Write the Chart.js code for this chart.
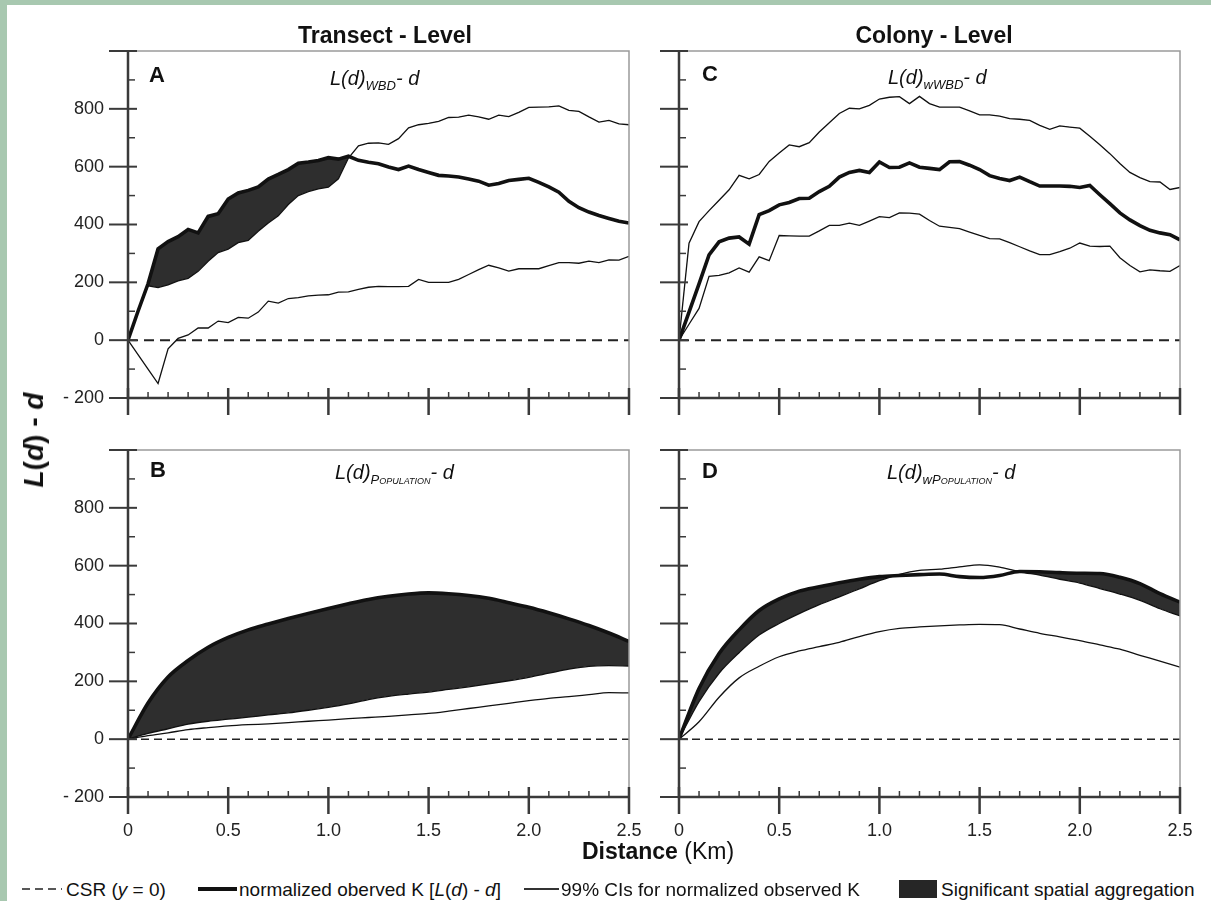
<!DOCTYPE html>
<html>
<head>
<meta charset="utf-8">
<script src="https://cdn.jsdelivr.net/npm/chart.js@4.4.1/dist/chart.umd.min.js"></script>
<style>
  html, body { margin: 0; padding: 0; }
  body { width: 1211px; height: 901px; background: #a8c8b0; position: relative; overflow: hidden;
         font-family: 'Liberation Sans', Arial, sans-serif; color: #111; }
  #sheet { position: absolute; left: 7px; top: 5px; right: 0; bottom: 0; background: #fff; }
  canvas { position: absolute; }
  .t { position: absolute; line-height: 1; white-space: nowrap; }
  .c { transform: translate(-50%, -50%); }
  .l { transform: translateY(-50%); }
  .title { font-weight: bold; font-size: 23px; }
  .letter { font-weight: bold; font-size: 22px; }
  .sub { font-style: italic; font-size: 20px; }
  .sub span { font-size: 13px; position: relative; top: 5px; }
  .sc { font-variant: small-caps; }
  .leg { font-size: 19px; }
</style>
</head>
<body>
<div id="sheet"></div>

<canvas id="chartA" width="621" height="437" style="left:48px;top:11px"></canvas>
<canvas id="chartC" width="621" height="437" style="left:599px;top:11px"></canvas>
<canvas id="chartB" width="621" height="437" style="left:48px;top:410px"></canvas>
<canvas id="chartD" width="621" height="437" style="left:599px;top:410px"></canvas>

<div class="t c title" style="left:385px;top:35px">Transect - Level</div>
<div class="t c title" style="left:934px;top:35px">Colony - Level</div>

<div class="t c letter" style="left:157px;top:75px">A</div>
<div class="t c letter" style="left:710px;top:74px">C</div>
<div class="t c letter" style="left:158px;top:470px">B</div>
<div class="t c letter" style="left:710px;top:471px">D</div>

<div class="t l sub" style="left:330px;top:78px">L(d)<span>WBD</span>- d</div>
<div class="t l sub" style="left:888px;top:77px">L(d)<span>wWBD</span>- d</div>
<div class="t l sub" style="left:335px;top:472px">L(d)<span class="sc">Population</span>- d</div>
<div class="t l sub" style="left:887px;top:472px">L(d)<span>w<span class="sc" style="top:0;font-size:13px">Population</span></span>- d</div>

<div class="t" style="left:34px;top:440px;font-size:28px;font-weight:bold;transform:translate(-50%,-50%) rotate(-90deg)"><i>L</i>(<i>d</i>) - <i>d</i></div>

<div class="t c" style="left:658px;top:851px;font-size:23px"><b>Distance</b> (Km)</div>

<svg style="position:absolute;left:22px;top:884px" width="42" height="10">
  <line x1="0" y1="5" x2="40" y2="5" stroke="#222" stroke-width="1.5" stroke-dasharray="8 5"/>
</svg>
<div class="t l leg" style="left:66px;top:889px">CSR (<i>y</i> = 0)</div>
<div style="position:absolute;left:198px;top:887px;width:39px;height:4px;background:#111"></div>
<div class="t l leg" style="left:239px;top:889px">normalized oberved K [<i>L</i>(<i>d</i>) - <i>d</i>]</div>
<div style="position:absolute;left:524px;top:888px;width:35px;height:1.5px;background:#333"></div>
<div class="t l leg" style="left:561px;top:889px">99% CIs for normalized observed K</div>
<div style="position:absolute;left:899px;top:880px;width:38px;height:18px;background:#262626"></div>
<div class="t l leg" style="left:941px;top:889px">Significant spatial aggregation</div>

<script>
// distances (km)
const distFine = [0, 0.05, 0.1, 0.15, 0.2, 0.25, 0.3, 0.35, 0.4, 0.45, 0.5, 0.55, 0.6, 0.65, 0.7, 0.75,
  0.8, 0.85, 0.9, 0.95, 1.0, 1.05, 1.1, 1.15, 1.2, 1.25, 1.3, 1.35, 1.4, 1.45, 1.5, 1.55, 1.6, 1.65,
  1.7, 1.75, 1.8, 1.85, 1.9, 1.95, 2.0, 2.05, 2.1, 2.15, 2.2, 2.25, 2.3, 2.35, 2.4, 2.45, 2.5];
const distCoarse = [0, 0.1, 0.2, 0.3, 0.4, 0.5, 0.6, 0.7, 0.8, 0.9, 1.0, 1.1, 1.2, 1.3, 1.4, 1.5,
  1.6, 1.7, 1.8, 1.9, 2.0, 2.1, 2.2, 2.3, 2.4, 2.5];

const csrX = [0, 2.5];
const csrY = [0, 0];

// A - transect level, WBD
const obsA = [0, 100, 195, 316, 341, 358, 383, 371, 428, 437, 488, 509, 518, 530, 557, 573, 590, 612, 616,
  621, 631, 626, 636, 622, 615, 610, 599, 590, 602, 590, 580, 570, 568, 564, 557, 550, 536, 542, 552,
  556, 560, 546, 530, 512, 480, 458, 443, 431, 421, 411, 405];
const upA = [0, 100, 188, 182, 191, 205, 214, 238, 273, 303, 315, 337, 345, 377, 405, 430, 469, 500, 514,
  523, 529, 558, 630, 672, 681, 682, 677, 697, 734, 745, 750, 757, 770, 771, 778, 772, 764, 778, 773,
  788, 805, 806, 807, 810, 795, 791, 772, 754, 760, 748, 745];
const lowA = [0, -50, -100, -150, -30, 6, 18, 42, 42, 66, 61, 79, 76, 97, 135, 128, 144, 147, 153, 156,
  157, 166, 167, 176, 183, 186, 185, 185, 186, 210, 200, 200, 200, 210, 227, 244, 259, 250, 239, 247,
  247, 247, 258, 268, 268, 266, 273, 268, 278, 277, 290];

// C - colony level, wWBD
const obsC = [0, 97, 195, 295, 340, 353, 357, 332, 434, 448, 468, 476, 490, 491, 514, 532, 564, 580, 587,
  580, 616, 597, 598, 613, 598, 594, 590, 617, 618, 605, 590, 569, 559, 552, 564, 548, 533, 533, 533,
  532, 528, 535, 503, 472, 440, 416, 396, 380, 371, 365, 347];
const upC = [0, 335, 410, 448, 484, 520, 570, 558, 573, 618, 647, 675, 669, 683, 720, 752, 784, 802, 800,
  812, 834, 840, 842, 818, 843, 818, 806, 806, 806, 793, 779, 779, 775, 766, 764, 760, 743, 729, 741,
  737, 733, 705, 676, 645, 611, 580, 562, 548, 547, 521, 528];
const lowC = [0, 55, 110, 221, 224, 233, 250, 235, 288, 275, 362, 361, 360, 360, 378, 397, 397, 405, 397,
  412, 427, 424, 440, 439, 436, 414, 394, 390, 386, 374, 362, 351, 350, 337, 323, 309, 296, 296, 306,
  318, 336, 325, 324, 325, 285, 258, 236, 243, 240, 238, 258];

// B - transect level, population
const obsB = [0, 125, 215, 272, 318, 352, 378, 398, 417, 435, 452, 468, 483, 494, 502, 506, 503, 497, 487,
  472, 456, 437, 416, 393, 367, 338];
const upB = [0, 20, 36, 52, 62, 69, 76, 84, 91, 100, 110, 122, 137, 148, 156, 163, 172, 181, 191, 202,
  214, 228, 242, 252, 254, 253];
const lowB = [0, 12, 22, 33, 40, 46, 50, 53, 57, 62, 66, 71, 75, 79, 84, 89, 97, 106, 115, 124, 133, 141,
  147, 154, 161, 160];

// D - colony level, wPopulation
const obsD = [0, 175, 296, 378, 445, 485, 512, 527, 541, 553, 562, 566, 569, 571, 562, 559, 566, 580, 579,
  576, 574, 573, 560, 538, 503, 474];
const upD = [0, 130, 228, 299, 360, 400, 434, 465, 492, 520, 548, 570, 584, 588, 596, 603, 595, 579, 567,
  553, 540, 521, 502, 480, 451, 426];
const lowD = [0, 60, 145, 212, 252, 285, 305, 320, 335, 355, 372, 383, 388, 392, 395, 397, 396, 381, 366,
  354, 341, 326, 311, 290, 270, 249];

const xTickLabels = ['0', '0.5', '1.0', '1.5', '2.0', '2.5'];
const yTickLabels = ['- 200', '0', '200', '400', '600', '800', ''];

const tickFont = { family: "'Liberation Sans', Arial, sans-serif", size: 18 };

// axis lines + crossing ticks like the original figure
const framePlugin = {
  id: 'frame',
  afterDatasetsDraw(chart) {
    const { ctx, chartArea: a, scales: { x, y } } = chart;
    ctx.save();
    ctx.lineCap = 'butt';
    ctx.strokeStyle = '#9a9a9a';
    ctx.lineWidth = 1.5;
    ctx.beginPath();
    ctx.moveTo(a.left, a.top);
    ctx.lineTo(a.right, a.top);
    ctx.lineTo(a.right, a.bottom);
    ctx.stroke();

    ctx.strokeStyle = '#3a3a3a';
    ctx.lineWidth = 2.5;
    ctx.beginPath();
    ctx.moveTo(a.left, a.top);
    ctx.lineTo(a.left, a.bottom);
    ctx.lineTo(a.right + 1, a.bottom);
    ctx.stroke();

    const yt = y.ticks.map(t => t.value);
    yt.forEach((v, i) => {
      const py = y.getPixelForValue(v);
      ctx.lineWidth = 2;
      ctx.beginPath();
      ctx.moveTo(a.left - 19, py);
      ctx.lineTo(a.left + 9, py);
      ctx.stroke();
      if (i < yt.length - 1) {
        const pm = y.getPixelForValue((v + yt[i + 1]) / 2);
        ctx.lineWidth = 1.5;
        ctx.beginPath();
        ctx.moveTo(a.left, pm);
        ctx.lineTo(a.left + 7, pm);
        ctx.stroke();
      }
    });

    const xt = x.ticks.map(t => t.value);
    xt.forEach((v, i) => {
      const px = x.getPixelForValue(v);
      ctx.lineWidth = 2.5;
      ctx.beginPath();
      ctx.moveTo(px, a.bottom - 10);
      ctx.lineTo(px, a.bottom + 17);
      ctx.stroke();
      if (i < xt.length - 1) {
        const step = (xt[i + 1] - v) / 5;
        ctx.lineWidth = 1.5;
        for (let k = 1; k < 5; k++) {
          const pm = x.getPixelForValue(v + step * k);
          ctx.beginPath();
          ctx.moveTo(pm, a.bottom - 6);
          ctx.lineTo(pm, a.bottom);
          ctx.stroke();
        }
      }
    });
    ctx.restore();
  }
};

function pts(xs, ys) {
  return xs.map((x, i) => ({ x, y: ys[i] }));
}

function panel(id, xs, obs, up, low, opts) {
  const line = (data, w) => ({
    data: pts(xs, data),
    borderColor: '#111',
    borderWidth: w,
    pointRadius: 0,
    tension: 0,
    cubicInterpolationMode: opts.smooth ? 'monotone' : 'default',
    fill: false
  });
  return new Chart(document.getElementById(id), {
    type: 'line',
    data: {
      datasets: [
        { label: '99% CI (upper)', ...line(up, 1.3) },
        { label: '99% CI (lower)', ...line(low, 1.3) },
        { label: 'observed', ...line(obs, 3.6), fill: { target: 0, above: '#2e2e2e', below: 'rgba(0,0,0,0)' } },
        { label: 'CSR', data: pts(csrX, csrY), borderColor: '#222', borderWidth: opts.dashW,
          borderDash: opts.dash, pointRadius: 0, fill: false }
      ]
    },
    options: {
      responsive: false,
      animation: false,
      events: [],
      // tick padding also feeds the scale padding, so keep the layout padding larger
      layout: { padding: { top: 40, right: 40, left: 0, bottom: 0 } },
      plugins: { legend: { display: false }, tooltip: { enabled: false } },
      scales: {
        x: {
          type: 'linear', min: 0, max: 2.5,
          grid: { display: false, drawTicks: false },
          border: { display: false },
          ticks: { display: opts.xLabels, stepSize: 0.5, padding: 23, autoSkip: false, maxRotation: 0,
                   font: tickFont, color: '#222', callback: (v, i) => xTickLabels[i] },
          afterFit: s => { s.height = 50; }
        },
        y: {
          type: 'linear', min: -200, max: 1000,
          grid: { display: false, drawTicks: false },
          border: { display: false },
          ticks: { stepSize: 200, padding: 24, font: tickFont, color: '#222',
                   callback: (v, i) => opts.yLabels ? yTickLabels[i] : '' },
          afterFit: s => { s.width = 80; }
        }
      }
    },
    plugins: [framePlugin]
  });
}

panel('chartA', distFine, obsA, upA, lowA, { smooth: false, xLabels: false, yLabels: true, dash: [10, 6], dashW: 2 });
panel('chartC', distFine, obsC, upC, lowC, { smooth: false, xLabels: false, yLabels: false, dash: [10, 6], dashW: 2 });
panel('chartB', distCoarse, obsB, upB, lowB, { smooth: true, xLabels: true, yLabels: true, dash: [8, 5], dashW: 1.5 });
panel('chartD', distCoarse, obsD, upD, lowD, { smooth: true, xLabels: true, yLabels: false, dash: [8, 5], dashW: 1.5 });
</script>
</body>
</html>
